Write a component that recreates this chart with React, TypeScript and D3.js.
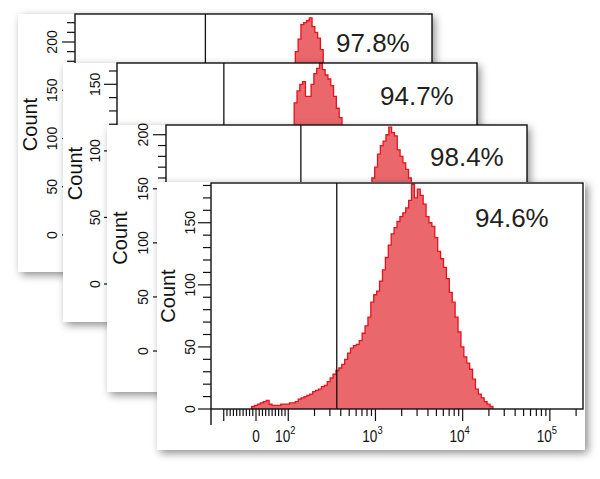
import React from "react";
import * as d3 from "d3";

// ---------- data ----------
const NB = 128; // display channels (bins) across the biexponential axis
const X_MIN = -140;
const X_MAX = 240000;
const LIN_LIMIT = 100;
const LIN_DECADES = 0.37;

const PERCENT_LABELS = ["97.8%", "94.7%", "98.4%", "94.6%"];
const GATE_VALUES = [470, 240, 510, 360];
const Y_MAX = [229, 166, 209, 182];

const P1_START = 70;
const P1_COUNTS = [5, 10, 20, 35, 50, 70, 95, 120, 160, 190, 203, 218, 220, 222, 225, 216, 210, 204, 192, 150, 100, 60, 35, 18, 8, 3, 1];
const P2_START = 52;
const P2_COUNTS = [4, 8, 14, 22, 32, 45, 58, 72, 86, 100, 110, 136, 145, 150, 152, 141, 141, 150, 158, 162, 166, 161, 157, 154, 149, 141, 132, 125, 110, 85, 55, 35, 20, 11, 5, 2, 1];
const P3_START = 62;
const P3_COUNTS = [3, 6, 10, 17, 26, 38, 52, 70, 92, 115, 140, 160, 170, 182, 190, 194, 200, 207, 202, 199, 186, 180, 174, 168, 160, 130, 95, 62, 35, 18, 8, 3, 1];
const P4_START = 14;
const P4_COUNTS = [
  2, 3, 4, 5, 6, 7, 4, 3, 3, 3, 4, 4, 4, 5, 5, 6, 8, 9, 10, 11,
  12, 14, 15, 16, 18, 19, 22, 25, 28, 31, 33, 36, 40, 45, 49, 51, 52, 55, 61, 67,
  74, 86, 92, 95, 103, 112, 122, 132, 141, 146, 151, 155, 158, 162, 168, 181, 170, 177, 172, 165,
  155, 150, 147, 138, 127, 121, 114, 105, 94, 86, 74, 62, 50, 42, 37, 32, 24, 16, 12, 9,
  6, 4, 2,
];
const STARTS = [P1_START, P2_START, P3_START, P4_START];
const COUNTS = [P1_COUNTS, P2_COUNTS, P3_COUNTS, P4_COUNTS];

const Y_LABEL = "Count";
const X_LABEL_VALUES = [0, 100, 1000, 10000, 100000];
const X_LABEL_BASES = ["0", "10", "10", "10", "10"];
const X_LABEL_EXPS = ["", "2", "3", "4", "5"];

// ---------- layout ----------
const LAYOUT = [
  { cx: 18, cy: 14, cr: 432, cb: 272, pl: 75, pt: 14, pr: 432, pb: 235, countX: 30, tickLabX: 52, pctX: 336, pctY: 52 },
  { cx: 63, cy: 63, cr: 477, cb: 322, pl: 117, pt: 63, pr: 477, pb: 284, countX: 75, tickLabX: 95, pctX: 380, pctY: 105 },
  { cx: 107, cy: 125, cr: 527, cb: 392, pl: 166, pt: 125, pr: 527, pb: 351, countX: 120, tickLabX: 143, pctX: 430, pctY: 166 },
  { cx: 157, cy: 182, cr: 585, cb: 450, pl: 211, pt: 183, pr: 583, pb: 409, countX: 168, tickLabX: 190, pctX: 475, pctY: 227 },
];

const FILL = "#ea676c";
const STROKE = "#e3141b";
const FONT = "'Liberation Sans', Arial, Helvetica, sans-serif";

function biex(v: number): number {
  const a = Math.abs(v);
  if (a <= LIN_LIMIT) return (v / LIN_LIMIT) * LIN_DECADES;
  return Math.sign(v) * (LIN_DECADES + Math.log10(a / LIN_LIMIT));
}

function xTickValues() {
  const lin = d3.range(-100, 101, 10);
  const logs: number[] = [];
  [100, 1000, 10000, 100000].forEach((d) => {
    for (let k = 2; k <= 10; k++) {
      const v = k * d;
      if (v <= X_MAX) logs.push(v);
    }
  });
  return lin.concat(logs);
}
const MAJOR_X = new Set([-100, 0, 100, 1000, 10000, 100000]);

function Panel({ idx }: { idx: number }) {
  const L = LAYOUT[idx];
  const tMin = biex(X_MIN);
  const tMax = biex(X_MAX);
  const x = d3.scaleLinear().domain([tMin, tMax]).range([L.pl, L.pr]);
  const y = d3.scaleLinear().domain([0, Y_MAX[idx]]).range([L.pb, L.pt]);
  const edge = (c: number) => x(tMin + (c * (tMax - tMin)) / NB);
  const start = STARTS[idx];
  const counts = COUNTS[idx];
  const pts: [number, number][] = [
    [edge(start), 0],
    ...counts.map((n, i) => [edge(start + i), n] as [number, number]),
    [edge(start + counts.length), 0],
  ];
  const line = d3
    .line<[number, number]>()
    .x((d) => d[0])
    .y((d) => y(d[1]))
    .curve(d3.curveStepAfter);
  const area = d3
    .area<[number, number]>()
    .x((d) => d[0])
    .y0(y(0))
    .y1((d) => y(d[1]))
    .curve(d3.curveStepAfter);
  const yTicks = d3.range(0, Y_MAX[idx] + 0.01, 10);
  const gx = x(biex(GATE_VALUES[idx]));
  const clipId = `clip${idx}`;
  const midY = (L.pt + L.pb) / 2;

  return (
    <g>
      <rect x={L.cx} y={L.cy} width={L.cr - L.cx} height={L.cb - L.cy} fill="#fff" filter="url(#shadow)" />
      <clipPath id={clipId}>
        <rect x={L.pl} y={L.pt - 1} width={L.pr - L.pl} height={L.pb - L.pt + 1} />
      </clipPath>
      <g clipPath={`url(#${clipId})`}>
        <path d={area(pts) || ""} fill={FILL} />
        <path d={line(pts) || ""} fill="none" stroke={STROKE} strokeWidth={1.3} />
      </g>
      <line x1={gx} x2={gx} y1={L.pt} y2={L.pb} stroke="#111" strokeWidth={1.3} />
      <rect x={L.pl} y={L.pt} width={L.pr - L.pl} height={L.pb - L.pt} fill="none" stroke="#111" strokeWidth={1.4} />
      {/* y axis extension below */}
      <line x1={L.pl} x2={L.pl} y1={L.pb} y2={L.pb + 16} stroke="#111" strokeWidth={1.4} />
      {/* y ticks */}
      {yTicks.map((v) => {
        const major = v % 50 === 0;
        return (
          <line key={v} x1={L.pl - (major ? 13 : 8)} x2={L.pl} y1={y(v)} y2={y(v)} stroke="#111" strokeWidth={1.2} />
        );
      })}
      {yTicks
        .filter((v) => v % 50 === 0)
        .map((v) => (
          <text
            key={"l" + v}
            transform={`translate(${L.tickLabX},${y(v)}) rotate(-90)`}
            textAnchor="middle"
            dominantBaseline="central"
            fontSize={14}
            fill="#111"
            fontFamily={FONT}
          >
            {v}
          </text>
        ))}
      <text
        transform={`translate(${L.countX},${midY}) rotate(-90)`}
        textAnchor="middle"
        dominantBaseline="central"
        fontSize={20}
        fill="#111"
        fontFamily={FONT}
      >
        {Y_LABEL}
      </text>
      {/* x ticks */}
      {xTickValues().map((v, i) => {
        const xx = x(biex(v));
        const major = MAJOR_X.has(v);
        return <line key={"x" + i} x1={xx} x2={xx} y1={L.pb} y2={L.pb + (major ? 12 : 7)} stroke="#111" strokeWidth={1.2} />;
      })}
      {X_LABEL_VALUES.map((v, i) => {
        const xx = x(biex(v));
        return (
          <g key={"xl" + i} transform={`translate(${xx - (X_LABEL_EXPS[i] ? 3 : 0)},${L.pb + 33}) scale(0.85,1)`}>
            <text textAnchor="middle" fontSize={16} fill="#111" fontFamily={FONT}>
              {X_LABEL_BASES[i]}
              {X_LABEL_EXPS[i] ? (
                <tspan dy={-8} fontSize={11}>
                  {X_LABEL_EXPS[i]}
                </tspan>
              ) : null}
            </text>
          </g>
        );
      })}
      <text x={L.pctX} y={L.pctY} fontSize={26} fill="#231f20" fontFamily={FONT}>
        {PERCENT_LABELS[idx]}
      </text>
    </g>
  );
}

export default function App() {
  return (
    <svg width={600} height={479} style={{ position: "absolute", left: 0, top: 0, background: "#fff" }}>
      <defs>
        <filter id="shadow" x="-10%" y="-10%" width="125%" height="130%">
          <feDropShadow dx={3} dy={3} stdDeviation={4} floodColor="#000" floodOpacity={0.45} />
        </filter>
      </defs>
      <rect x={0} y={0} width={600} height={479} fill="#fff" />
      {LAYOUT.map((_, i) => (
        <Panel key={i} idx={i} />
      ))}
    </svg>
  );
}
